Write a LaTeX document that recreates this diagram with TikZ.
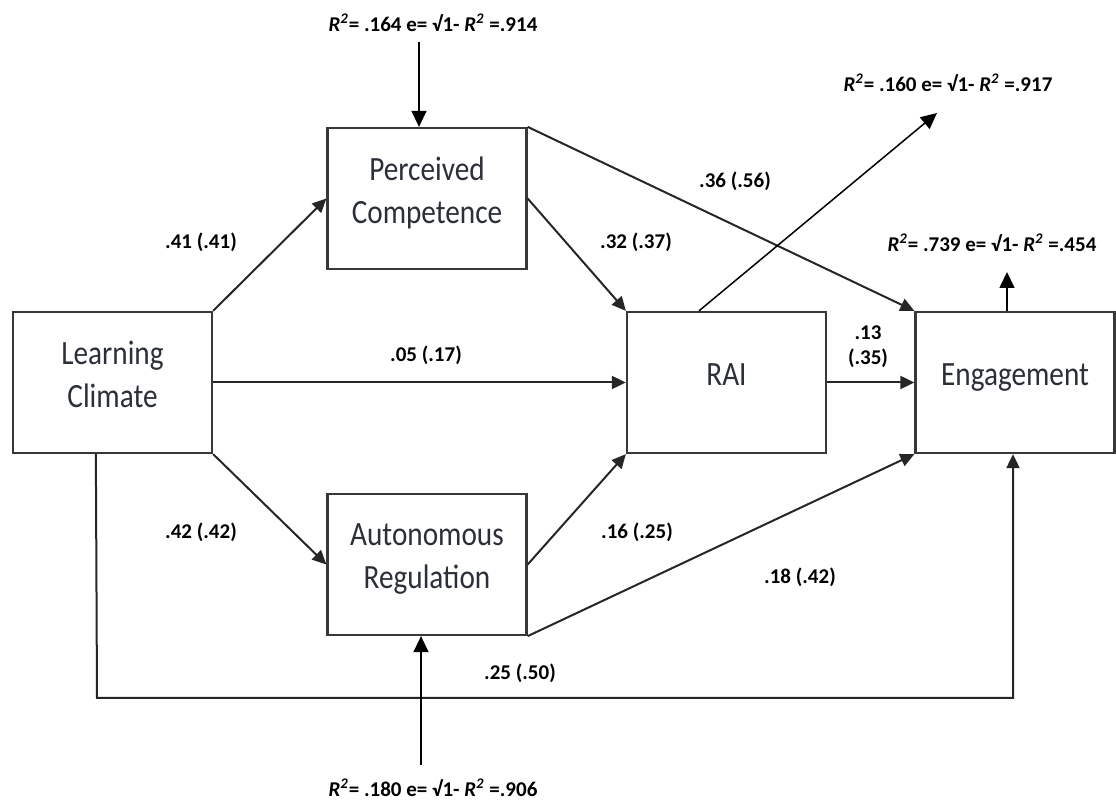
\documentclass[tikz,border=0pt]{standalone}
\usepackage{fontspec}
\setmainfont{Carlito}
\newfontfamily\boxfont[FakeStretch=0.86]{Carlito}
\usetikzlibrary{arrows.meta, calc}
\definecolor{boxgray}{HTML}{383838}
\definecolor{slatetext}{HTML}{2B2F38}
\newcommand{\Rsq}{\textit{R\textsuperscript{2}}}

\begin{document}
\begin{tikzpicture}[x=0.5pt,y=-0.5pt,
  varbox/.style={draw=boxgray,line width=1.15pt,minimum width=99.5pt,
    minimum height=70.5pt,inner sep=0pt,align=center,text=slatetext,
    text depth=8pt,font=\boxfont\fontsize{17}{21.5}\selectfont},
  link/.style={-{Triangle[length=7pt,width=6.5pt]},line width=1pt,draw=black!85},
  resid/.style={-{Triangle[length=8pt,width=7.5pt]},line width=0.75pt},
  coef/.style={font=\fontsize{10.5}{12.5}\selectfont\bfseries,inner sep=0pt,align=center}]
  \useasboundingbox (0,0) rectangle (1116,801);

  % variables
  \node[varbox] (lc)  at (112.5,382.5) {Learning\\Climate};
  \node[varbox] (pc)  at (427,198.5)   {Perceived\\Competence};
  \node[varbox] (ar)  at (427,564.5)   {Autonomous\\Regulation};
  \node[varbox] (rai) at (726.5,382.5) {RAI};
  \node[varbox] (eng) at (1015,382.5)  {Engagement};

  % paths between the variables
  \draw[link] (lc.north east) -- (pc.west);
  \draw[link] (lc.east) -- (rai.west);
  \draw[link] (lc.south east) -- (ar.west);
  \draw[link] (pc.east) -- (rai.north west);
  \draw[link] (pc.north east) -- (eng.north west);
  \draw[link] (ar.east) -- (rai.south west);
  \draw[link] (ar.south east) -- (eng.south west);
  \draw[link] (rai.east) -- (eng.west);

  % direct path Learning Climate -> Engagement, round the bottom
  \coordinate (loopL) at (97,698);
  \coordinate (loopR) at (1013,698);
  \draw[link] ($(lc.south west)+(84,0)$) -- (loopL) -- (loopR) -- (loopR |- eng.south);

  % path coefficients
  \node[coef] (c41) at (201,242) {.41 (.41)};
  \node[coef] (c32) at (636,242) {.32 (.37)};
  \node[coef] (c36) at (735,181) {.36 (.56)};
  \node[coef] (c05) at (426,355) {.05 (.17)};
  \node[coef] (c13) at (868,347) {.13\\(.35)};
  \node[coef] (c42) at (201,532) {.42 (.42)};
  \node[coef] (c16) at (637,532) {.16 (.25)};
  \node[coef] (c18) at (800,577) {.18 (.42)};
  \node[coef] (c25) at (520,673) {.25 (.50)};

  % explained variance and residuals
  \node[coef] (r2pc)  at (433,23)  {\Rsq= .164 e= √1- \Rsq\ =.914};
  \node[coef] (r2ar)  at (433,788) {\Rsq= .180 e= √1- \Rsq\ =.906};
  \node[coef] (r2rai) at (948,83)  {\Rsq= .160 e= √1- \Rsq\ =.917};
  \node[coef] (r2eng) at (992,243) {\Rsq= .739 e= √1- \Rsq\ =.454};
  \coordinate (pcfoot)  at (419,42);
  \coordinate (arfoot)  at (421,765);
  \coordinate (raitip)  at (937,113);
  \coordinate (engtip)  at (1007,272);
  \draw[resid] (pcfoot) -- (pcfoot |- pc.north);
  \draw[resid] (arfoot) -- (arfoot |- ar.south);
  \draw[resid] (rai.north -| 699,0) -- (raitip);
  \draw[resid] (eng.north -| engtip) -- (engtip);
\end{tikzpicture}
\end{document}
